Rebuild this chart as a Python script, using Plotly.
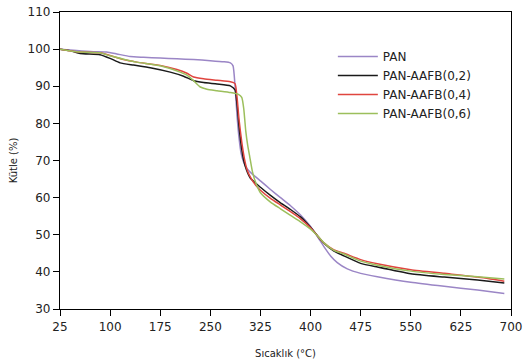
import plotly.graph_objects as go

pan_t = [25, 50, 75, 95, 110, 130, 150, 175, 200, 225, 250, 270, 280, 284, 287, 290, 293, 296, 300, 305, 310, 325, 340, 355, 370, 385, 400, 410, 420, 430, 440, 455, 475, 500, 550, 600, 650, 690]
pan_v = [100, 99.6, 99.3, 99.2, 98.7, 98.0, 97.8, 97.6, 97.4, 97.2, 96.9, 96.6, 96.3, 95.5, 90, 82, 76, 72, 69.5, 67.8, 66.8, 64.5, 62.2, 60.0, 57.8, 55.3, 52.2, 49.6, 46.8, 44.3, 42.5, 40.8, 39.6, 38.7, 37.2, 36.1, 35.1, 34.2]

b_t = [25, 40, 55, 85, 100, 115, 135, 160, 190, 210, 225, 240, 260, 280, 287, 290, 293, 297, 300, 304, 310, 325, 340, 355, 370, 385, 400, 410, 420, 435, 450, 475, 500, 550, 600, 650, 690]
b_v = [100, 99.6, 98.8, 98.5, 97.5, 96.3, 95.7, 95.0, 93.8, 92.7, 91.5, 91.0, 90.6, 90.1, 89.0, 85, 79, 73, 70, 67.5, 65.2, 62.8, 60.6, 58.6, 56.8, 54.8, 52.0, 49.8, 47.7, 45.6, 44.3, 42.3, 41.3, 39.5, 38.6, 37.8, 37.0]

r_t = [25, 50, 85, 100, 120, 140, 175, 200, 215, 225, 240, 260, 280, 287, 290, 293, 297, 301, 305, 310, 318, 325, 340, 355, 370, 385, 400, 410, 420, 435, 450, 475, 500, 550, 600, 650, 690]
r_v = [100, 99.3, 99.0, 98.3, 97.2, 96.5, 95.6, 94.5, 93.5, 92.5, 92.0, 91.6, 91.2, 90.7, 87, 81, 75, 70.5, 67.5, 65.5, 63.3, 62.0, 59.8, 58.0, 56.2, 54.3, 51.9, 49.8, 47.8, 45.9, 45.0, 43.3, 42.2, 40.6, 39.6, 38.6, 37.5]

g_t = [25, 50, 85, 100, 120, 140, 175, 205, 215, 225, 235, 245, 260, 280, 292, 297, 300, 303, 306, 309, 313, 318, 325, 340, 355, 370, 385, 400, 410, 420, 435, 450, 475, 500, 550, 600, 650, 690]
g_v = [100, 99.3, 99.0, 98.2, 97.3, 96.5, 95.5, 93.8, 93.0, 91.5, 89.8, 89.2, 88.8, 88.3, 87.8, 87.0, 84, 78, 74, 71, 67, 64, 61.3, 58.8, 57.0, 55.2, 53.5, 51.5, 49.8, 47.8, 45.8, 44.8, 42.9, 41.8, 40.2, 39.3, 38.7, 38.1]

names = ["PAN", "PAN-AAFB(0,2)", "PAN-AAFB(0,4)", "PAN-AAFB(0,6)"]
colors = ["#9b86c6", "#1a1a1a", "#e0453f", "#9cbf5c"]
x_ticks = [25, 100, 175, 250, 325, 400, 475, 550, 625, 700]
y_ticks = [30, 40, 50, 60, 70, 80, 90, 100, 110]

fig = go.Figure()
for t, v, n, c in zip([pan_t, b_t, r_t, g_t], [pan_v, b_v, r_v, g_v], names, colors):
    fig.add_trace(go.Scatter(x=t, y=v, mode="lines", name=n,
                             line=dict(color=c, width=1.5, shape="spline", smoothing=0.5)))

font = "DejaVu Sans, sans-serif"
fig.update_layout(
    width=524, height=363,
    margin=dict(l=60, r=13, t=12, b=54, autoexpand=False),
    plot_bgcolor="white", paper_bgcolor="white",
    font=dict(family=font, size=12, color="#222"),
    showlegend=True,
    legend=dict(x=0.605, y=0.899, xanchor="left", yanchor="top",
                bgcolor="rgba(0,0,0,0)", font=dict(size=12),
                tracegroupgap=0, itemwidth=40),
    xaxis=dict(range=[25, 700], tickmode="array", tickvals=x_ticks, automargin=False,
               ticklabeloverflow="allow",
               showgrid=False, zeroline=False, showline=True, linecolor="black",
               linewidth=1.2, mirror=True, ticks="outside", ticklen=6, tickcolor="black",
               title=dict(text="Sıcaklık (°C)", font=dict(size=10), standoff=17)),
    yaxis=dict(range=[30, 110], tickmode="array", tickvals=y_ticks, automargin=False,
               ticklabeloverflow="allow",
               showgrid=False, zeroline=False, showline=True, linecolor="black",
               linewidth=1.2, mirror=True, ticks="outside", ticklen=6, tickcolor="black",
               title=dict(text="Kütle (%)", font=dict(size=10), standoff=8)),
)
fig.write_html("out.html", config={"displayModeBar": False},
               post_script="document.body.style.margin='0';document.body.style.overflow='hidden';")
